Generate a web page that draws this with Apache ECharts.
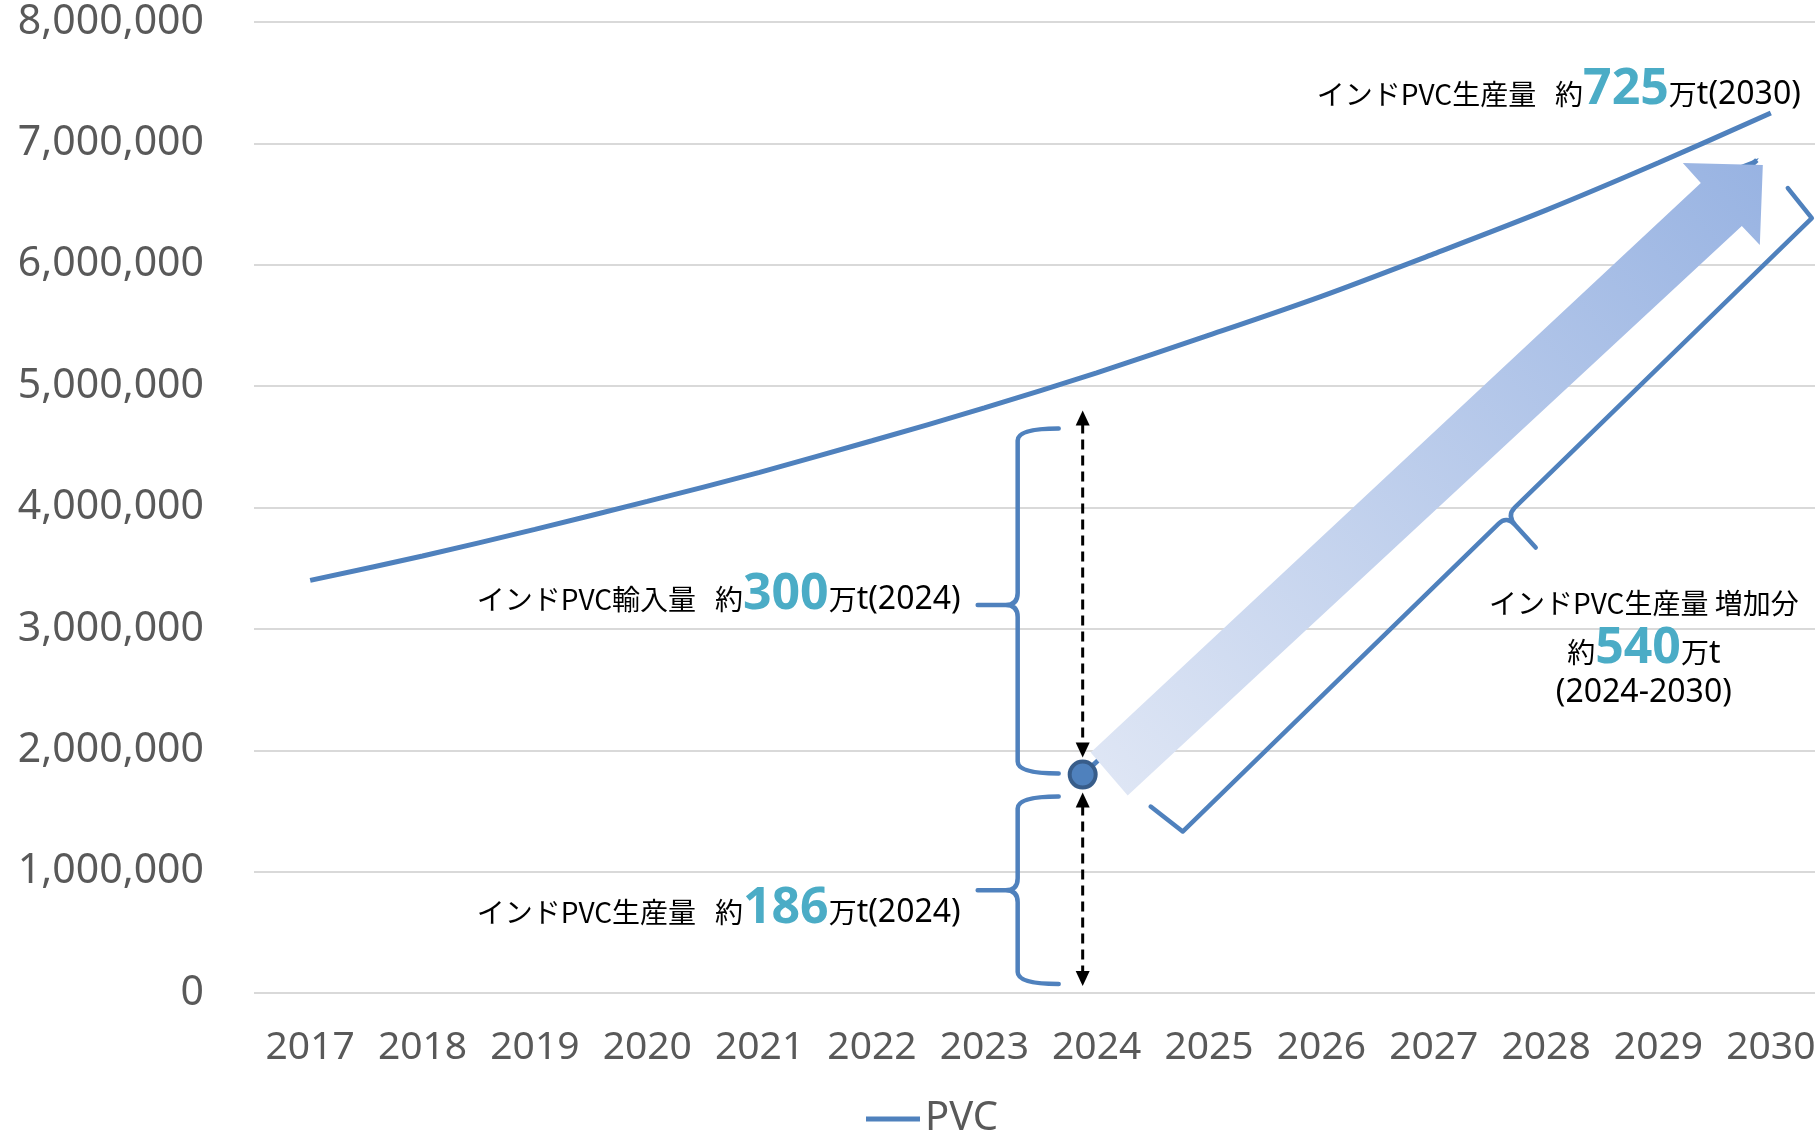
<!DOCTYPE html>
<html>
<head>
<meta charset="utf-8">
<script src="https://cdn.jsdelivr.net/npm/echarts@6/dist/echarts.min.js"></script>
<style>
html,body{margin:0;padding:0;background:#ffffff;overflow:hidden;width:1815px;height:1131px;}
#c{width:1830px;height:1131px;}
</style>
</head>
<body>
<div id="c"></div>
<script>
// ---------- data ----------
const years = ['2017','2018','2019','2020','2021','2022','2023','2024','2025','2026','2027','2028','2029','2030'];
const pvcValues = [3400000, 3600000, 3820000, 4050000, 4290000, 4550000, 4820000, 5110000, 5420000, 5740000, 6090000, 6450000, 6840000, 7250000];
const yMin = 0, yMax = 8000000, yInterval = 1000000;
const production2024 = 1800000;   // インドPVC生産量 (2024) marker
const imports2024 = 3000000;      // インドPVC輸入量 (2024)
const seriesName = 'PVC';
const labelTop = ['インドPVC生産量   約', '725', '万', 't(2030)'];
const labelImport = ['インドPVC輸入量   約', '300', '万', 't(2024)'];
const labelProd = ['インドPVC生産量   約', '186', '万', 't(2024)'];
const labelIncreaseTitle = 'インドPVC生産量 増加分';
const labelIncrease = ['約', '540', '万', 't'];
const labelIncreasePeriod = '(2024-2030)';

// ---------- styles ----------
const BLUE = '#4F81BD';
const TEAL = '#4BACC6';
const GRAY = '#595959';
const JP = '"Noto Sans CJK JP", "Noto Sans", sans-serif';
const LAT = '"Noto Sans", "DejaVu Sans", sans-serif';

const ST = {
  a: {fontSize: 28, fontFamily: JP, fontWeight: 'normal', fill: '#000000', dy: 0},
  b: {fontSize: 50, fontFamily: LAT, fontWeight: 'bold', fill: TEAL, dy: 7},
  c: {fontSize: 32, fontFamily: LAT, fontWeight: 'normal', fill: '#000000', dy: 3}
};
const measureCtx = document.createElement('canvas').getContext('2d');
function textWidth(str, s) {
  measureCtx.font = s.fontWeight + ' ' + s.fontSize + 'px ' + s.fontFamily;
  return measureCtx.measureText(str).width;
}
// parts: [prefix, number, 万, latin suffix]; y = bottom line of the small text
function inlineLabel(parts, x, y, align) {
  const tokens = [['a', parts[0]], ['b', parts[1]], ['a', parts[2]], ['c', parts[3]]];
  const widths = tokens.map(t => textWidth(t[1], ST[t[0]]));
  const total = widths.reduce((s, w) => s + w, 0);
  let cx = align === 'right' ? x - total : (align === 'center' ? x - total / 2 : x);
  return tokens.map((t, i) => {
    const s = ST[t[0]];
    const el = {type: 'text', z2: 5, style: {text: t[1], x: cx, y: y + s.dy, fontSize: s.fontSize,
      fontFamily: s.fontFamily, fontWeight: s.fontWeight, fill: s.fill, align: 'left', verticalAlign: 'bottom'}};
    cx += widths[i];
    return el;
  });
}

function brace(xArm, xV, xTip, yT, yB, yM) {
  const r = 12, r2 = 12;
  return 'M' + xArm + ' ' + yT +
    ' Q' + xV + ' ' + yT + ' ' + xV + ' ' + (yT + r) +
    ' L' + xV + ' ' + (yM - r2) +
    ' Q' + xV + ' ' + yM + ' ' + (xV - r2) + ' ' + yM +
    ' L' + xTip + ' ' + yM +
    ' M' + (xV - r2) + ' ' + yM +
    ' Q' + xV + ' ' + yM + ' ' + xV + ' ' + (yM + r2) +
    ' L' + xV + ' ' + (yB - r) +
    ' Q' + xV + ' ' + yB + ' ' + xArm + ' ' + yB;
}

function dashedArrow(x, yT, yB) {
  const h = 15, w = 7;
  return [
    {type: 'line', shape: {x1: x, y1: yT + h - 2, x2: x, y2: yB - h + 2},
     style: {stroke: '#000', lineWidth: 3, lineDash: [10, 6]}},
    {type: 'polygon', shape: {points: [[x, yT], [x - w, yT + h], [x + w, yT + h]]}, style: {fill: '#000'}},
    {type: 'polygon', shape: {points: [[x, yB], [x - w, yB - h], [x + w, yB - h]]}, style: {fill: '#000'}}
  ];
}

function renderAnnotations(params, api) {
  const i24 = years.indexOf('2024');
  const i30 = years.indexOf('2030');
  const c24 = api.coord([i24, production2024]);
  const A = [c24[0] - 14, c24[1]];                     // 2024 production marker
  const y0 = api.coord([i24, 0])[1];
  const yTop = api.coord([i24, production2024 + imports2024])[1];
  const B = api.coord([i30, pvcValues[i30]]);          // 2030 end of line
  const add = (p, dx, dy) => [p[0] + dx, p[1] + dy];

  const children = [];

  // blue line under the gradient arrow
  const blEnd = add(B, -14, 47);
  children.push({type: 'line', shape: {x1: A[0], y1: A[1], x2: blEnd[0], y2: blEnd[1]},
    style: {stroke: BLUE, lineWidth: 5}, z2: 1});
  children.push({type: 'polygon', shape: {points: [add(B, -12, 45), add(B, -30, 52), add(B, -22, 60)]},
    style: {fill: BLUE}, z2: 1});

  // gradient block arrow
  const T1 = add(A, 8, -22), T2 = add(A, 45, 21);
  const JL = add(B, -70, 70), BL = add(B, -88, 50), TP = add(B, -8, 52), BR = add(B, -11, 132), JR = add(B, -29, 113);
  children.push({type: 'polygon', shape: {points: [T1, JL, BL, TP, BR, JR, T2]},
    style: {fill: new echarts.graphic.LinearGradient(0, 1, 1, 0, [
      {offset: 0, color: '#E0E7F5'}, {offset: 1, color: '#98B3E2'}])}, z2: 2});

  // big bracket along the arrow
  const P1 = add(A, 68, 32), P2 = add(A, 100, 57), P5 = add(B, 41, 105), P6 = add(B, 17, 75);
  const f = 0.515;
  const J = [P2[0] + f * (P5[0] - P2[0]), P2[1] + f * (P5[1] - P2[1])];
  const tip = [J[0] + 29, J[1] + 32];
  const K = [J[0] + 0.3 * (tip[0] - J[0]), J[1] + 0.3 * (tip[1] - J[1])];
  const P3 = [J[0] - 8, J[1] + 8], P4 = [J[0] + 8, J[1] - 8];
  const bp = 'M' + P1[0] + ' ' + P1[1] + ' L' + P2[0] + ' ' + P2[1] + ' L' + P3[0] + ' ' + P3[1] +
    ' Q' + J[0] + ' ' + J[1] + ' ' + K[0] + ' ' + K[1] + ' L' + tip[0] + ' ' + tip[1] +
    ' M' + K[0] + ' ' + K[1] + ' Q' + J[0] + ' ' + J[1] + ' ' + P4[0] + ' ' + P4[1] +
    ' L' + P5[0] + ' ' + P5[1] + ' L' + P6[0] + ' ' + P6[1];
  children.push({type: 'path', shape: {pathData: bp},
    style: {stroke: BLUE, lineWidth: 4.5, fill: 'none', lineJoin: 'round', lineCap: 'round'}, z2: 3});

  // braces at 2024
  const xArm = A[0] - 24, xV = A[0] - 65, xTip = A[0] - 105;
  const ub = [yTop + 18, A[1] - 1];
  const lb = [A[1] + 22, y0 - 9];
  const um = (ub[0] + ub[1]) / 2 + 4, lm = (lb[0] + lb[1]) / 2;
  children.push({type: 'path', shape: {pathData: brace(xArm, xV, xTip, ub[0], ub[1], um)},
    style: {stroke: BLUE, lineWidth: 4.5, fill: 'none', lineCap: 'round'}, z2: 3});
  children.push({type: 'path', shape: {pathData: brace(xArm, xV, xTip, lb[0], lb[1], lm)},
    style: {stroke: BLUE, lineWidth: 4.5, fill: 'none', lineCap: 'round'}, z2: 3});

  // dashed arrows
  dashedArrow(A[0], yTop, A[1] - 17).forEach(e => children.push(e));
  dashedArrow(A[0], A[1] + 18, y0 - 7).forEach(e => children.push(e));

  // texts
  inlineLabel(labelTop, B[0] + 30, B[1] - 5, 'right').forEach(e => children.push(e));
  inlineLabel(labelImport, A[0] - 122, um + 8, 'right').forEach(e => children.push(e));
  inlineLabel(labelProd, A[0] - 122, lm + 36, 'right').forEach(e => children.push(e));
  const cx = B[0] - 127;
  children.push({type: 'text', style: {x: cx, y: J[1] + 88, text: labelIncreaseTitle, fontSize: 28, fontFamily: JP,
    fill: '#000', align: 'center', verticalAlign: 'middle'}, z2: 5});
  inlineLabel(labelIncrease, cx, J[1] + 151, 'center').forEach(e => children.push(e));
  children.push({type: 'text', style: {x: cx, y: J[1] + 177, text: labelIncreasePeriod, fontSize: 32, fontFamily: LAT,
    fill: '#000', align: 'center', verticalAlign: 'middle'}, z2: 5});

  return {type: 'group', children: children};
}

const chart = echarts.init(document.getElementById('c'));
const option = {
  animation: false,
  backgroundColor: '#ffffff',
  grid: {left: 254, top: 22, width: 1573, height: 971, containLabel: false},
  legend: {
    data: [{name: seriesName, icon: 'rect'}],
    left: 866, top: 1099, padding: 0,
    itemWidth: 54, itemHeight: 5,
    textStyle: {fontSize: 40, color: GRAY, fontFamily: LAT}
  },
  xAxis: {
    type: 'category', data: years, boundaryGap: true,
    axisLine: {show: false}, axisTick: {show: false},
    axisLabel: {fontSize: 39, color: GRAY, fontFamily: LAT, margin: 35, interval: 0}
  },
  yAxis: {
    type: 'value', min: yMin, max: yMax, interval: yInterval,
    axisLine: {show: false}, axisTick: {show: false},
    axisLabel: {fontSize: 41, color: GRAY, fontFamily: LAT, margin: 50,
      formatter: v => v.toLocaleString('en-US')},
    splitLine: {lineStyle: {color: '#D9D9D9', width: 2}}
  },
  series: [
    {type: 'custom', name: 'annotations', data: [[0, 0]], renderItem: renderAnnotations, z: 2, silent: true},
    {name: seriesName, type: 'line', data: pvcValues, smooth: 0.3, symbol: 'none',
      lineStyle: {color: BLUE, width: 5}, itemStyle: {color: BLUE}, z: 3},
    {name: '2024', type: 'scatter', data: [['2024', production2024]], symbol: 'circle', symbolSize: 26,
      symbolOffset: [-14, 0], itemStyle: {color: BLUE, borderColor: '#385D8A', borderWidth: 4, opacity: 1}, z: 4}
  ]
};
chart.setOption(option);
</script>
</body>
</html>
